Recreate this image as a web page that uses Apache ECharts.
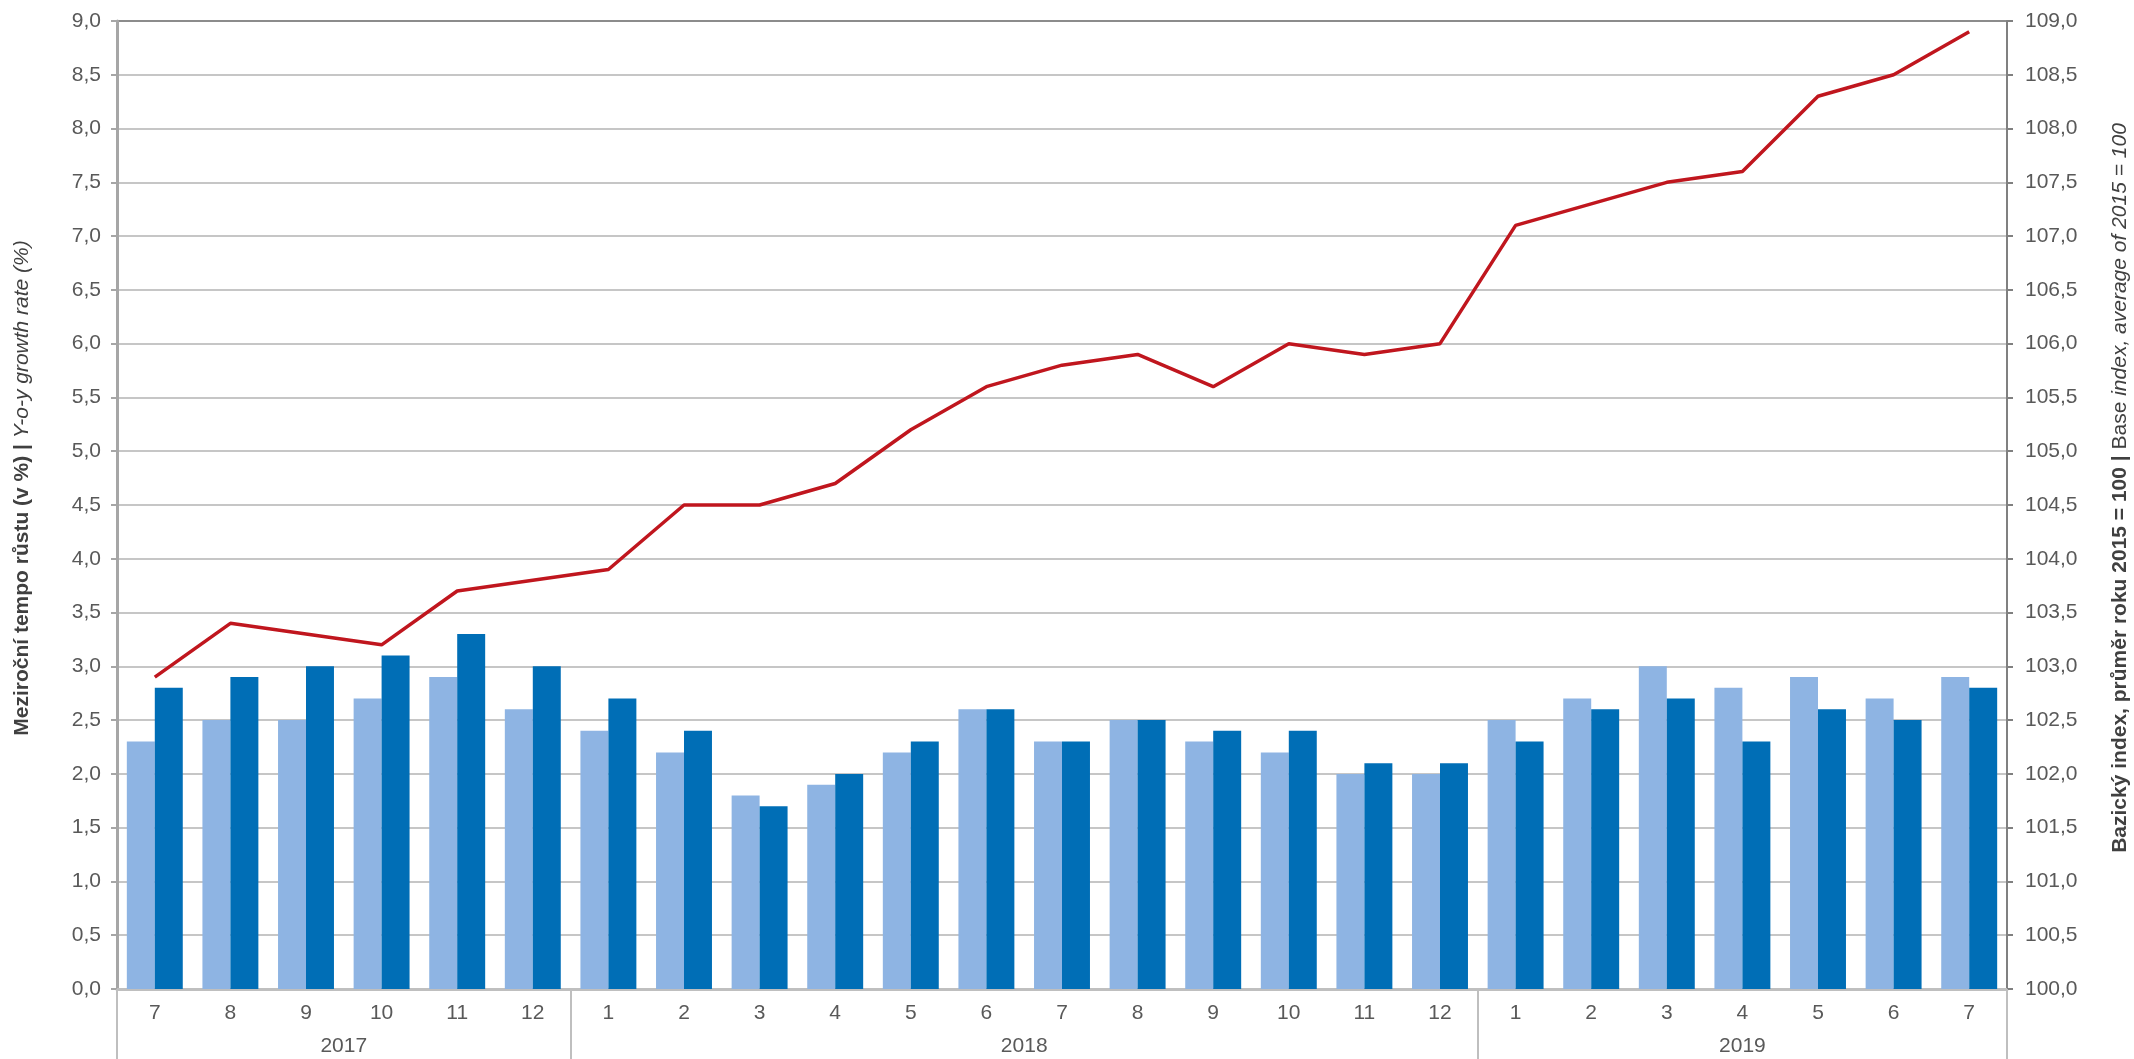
<!DOCTYPE html>
<html>
<head>
<meta charset="utf-8">
<title>Mezirocni tempo rustu</title>
<script src="https://cdn.jsdelivr.net/npm/echarts@6/dist/echarts.min.js"></script>
<style>
  html, body { margin: 0; padding: 0; background: #fff; }
  #chart { width: 2134px; height: 1059px; }
</style>
</head>
<body>
<div id="chart"></div>
<script>
// months 7/2017 .. 7/2019
var months = ['7', '8', '9', '10', '11', '12',
              '1', '2', '3', '4', '5', '6', '7', '8', '9', '10', '11', '12',
              '1', '2', '3', '4', '5', '6', '7'];
var years = ['2017', '2018', '2019'];
var yearSpans = [6, 12, 7];

// y-o-y growth rate, light bars
var seriesLight = [2.3, 2.5, 2.5, 2.7, 2.9, 2.6,
                   2.4, 2.2, 1.8, 1.9, 2.2, 2.6, 2.3, 2.5, 2.3, 2.2, 2.0, 2.0,
                   2.5, 2.7, 3.0, 2.8, 2.9, 2.7, 2.9];
// y-o-y growth rate, dark bars
var seriesDark = [2.8, 2.9, 3.0, 3.1, 3.3, 3.0,
                  2.7, 2.4, 1.7, 2.0, 2.3, 2.6, 2.3, 2.5, 2.4, 2.4, 2.1, 2.1,
                  2.3, 2.6, 2.7, 2.3, 2.6, 2.5, 2.8];
// base index, average of 2015 = 100
var baseIndex = [102.9, 103.4, 103.3, 103.2, 103.7, 103.8,
                 103.9, 104.5, 104.5, 104.7, 105.2, 105.6, 105.8, 105.9, 105.6, 106.0, 105.9, 106.0,
                 107.1, 107.3, 107.5, 107.6, 108.3, 108.5, 108.9];

var leftMin = 0, leftMax = 9, step = 0.5;
var rightMin = 100, rightMax = 109;

// year row: half-band slots so labels can sit between months
var slotCount = months.length * 2 + 1;
var yearSlots = [];
for (var s = 0; s < slotCount; s++) yearSlots.push('');
var yearTicks = {};
var start = 0;
years.forEach(function (y, i) {
    yearTicks[start * 2] = true;
    yearSlots[start * 2 + yearSpans[i]] = y;
    start += yearSpans[i];
});
yearTicks[start * 2] = true;

var font = "'Liberation Sans', Arial, sans-serif";
var comma = function (v) { return v.toFixed(1).replace('.', ','); };

// grid line colours: top one darker (plot border)
var nLines = Math.round((leftMax - leftMin) / step) + 1;
var gridColors = [];
for (var k = 0; k < nLines; k++) gridColors.push(k === nLines - 1 ? '#8c8c8c' : '#c6c6c6');

var myChart = echarts.init(document.getElementById('chart'));

var option = {
    animation: false,
    backgroundColor: '#fff',
    grid: { left: 117, right: 127, top: 21, bottom: 70, outerBoundsMode: 'none', containLabel: false },
    xAxis: [{
        type: 'category',
        data: months,
        boundaryGap: true,
        axisLine: { lineStyle: { color: '#bfbfbf', width: 3 } },
        axisTick: { interval: 0, length: 41, lineStyle: { color: '#bfbfbf', width: 2 } },
        axisLabel: { interval: 0, margin: 14, fontSize: 21, color: '#595959', fontFamily: font },
        splitLine: { show: false }
    }, {
        type: 'category',
        data: yearSlots,
        position: 'bottom',
        boundaryGap: false,
        axisLine: { show: false },
        axisTick: {
            interval: function (idx) { return !!yearTicks[idx]; },
            length: 70,
            lineStyle: { color: '#bfbfbf', width: 2 }
        },
        axisLabel: { interval: 0, margin: 47, fontSize: 21, color: '#595959', fontFamily: font },
        splitLine: { show: false }
    }],
    yAxis: [{
        type: 'value',
        min: leftMin, max: leftMax, interval: step,
        position: 'left',
        name: '{b|Meziroční tempo růstu (v %) | }{i|Y-o-y growth rate (%)}',
        nameLocation: 'middle',
        nameRotate: 90,
        nameGap: 84,
        nameTextStyle: {
            padding: [0, 0, 0, 34],
            rich: {
                b: { fontWeight: 'bold', fontSize: 21, color: '#404040', fontFamily: font },
                i: { fontStyle: 'italic', fontSize: 21, color: '#404040', fontFamily: font }
            }
        },
        axisLine: { show: true, lineStyle: { color: '#a6a6a6', width: 3 } },
        axisTick: { show: true, length: 6, lineStyle: { color: '#a6a6a6', width: 2 } },
        axisLabel: { margin: 16, fontSize: 21, color: '#595959', fontFamily: font, formatter: comma },
        splitLine: { show: true, lineStyle: { color: gridColors, width: 2 } }
    }, {
        type: 'value',
        min: rightMin, max: rightMax, interval: step,
        position: 'right',
        name: '{b|Bazický index, průměr roku 2015 = 100 | }{n|Base }{i|index, average of 2015 = 100}',
        nameLocation: 'middle',
        nameRotate: 90,
        nameGap: 103,
        nameTextStyle: {
            padding: [0, 0, 0, 34],
            rich: {
                b: { fontWeight: 'bold', fontSize: 21, color: '#404040', fontFamily: font },
                n: { fontSize: 21, color: '#404040', fontFamily: font },
                i: { fontStyle: 'italic', fontSize: 21, color: '#404040', fontFamily: font }
            }
        },
        axisLine: { show: true, lineStyle: { color: '#808080', width: 2 } },
        axisTick: { show: true, length: 6, lineStyle: { color: '#808080', width: 2 } },
        axisLabel: { margin: 18, fontSize: 21, color: '#595959', fontFamily: font, formatter: comma },
        splitLine: { show: false }
    }],
    series: [{
        type: 'bar',
        data: seriesLight,
        itemStyle: { color: '#8eb4e3' },
        barGap: '0%',
        barCategoryGap: '26%',
        z: 2
    }, {
        type: 'bar',
        data: seriesDark,
        itemStyle: { color: '#006eb6' },
        barGap: '0%',
        barCategoryGap: '26%',
        z: 2
    }, {
        type: 'line',
        yAxisIndex: 1,
        data: baseIndex,
        showSymbol: false,
        symbol: 'none',
        lineStyle: { color: '#c0161e', width: 3.5 },
        z: 5
    }]
};

myChart.setOption(option);
window.onresize = function () { myChart.resize(); };
</script>
</body>
</html>
